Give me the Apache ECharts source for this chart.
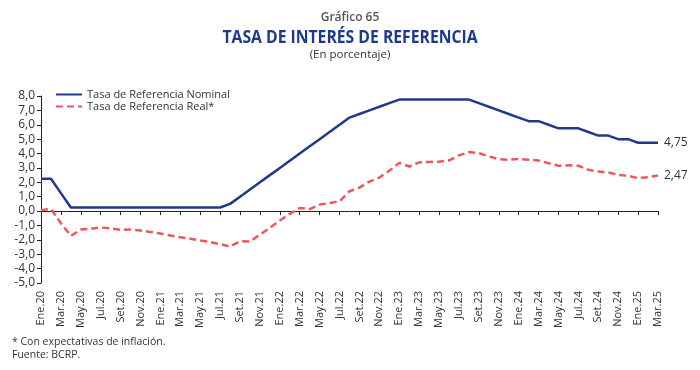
<!DOCTYPE html>
<html>
<head>
<meta charset="utf-8">
<script src="https://cdn.jsdelivr.net/npm/echarts@6/dist/echarts.min.js"></script>
<style>
html,body{margin:0;padding:0;background:#fff;}
#chart{width:700px;height:370px;}
</style>
</head>
<body>
<div id="chart"></div>
<script>
const categories = [
 'Ene.20','Feb.20','Mar.20','Abr.20','May.20','Jun.20','Jul.20','Ago.20','Set.20','Oct.20','Nov.20','Dic.20',
 'Ene.21','Feb.21','Mar.21','Abr.21','May.21','Jun.21','Jul.21','Ago.21','Set.21','Oct.21','Nov.21','Dic.21',
 'Ene.22','Feb.22','Mar.22','Abr.22','May.22','Jun.22','Jul.22','Ago.22','Set.22','Oct.22','Nov.22','Dic.22',
 'Ene.23','Feb.23','Mar.23','Abr.23','May.23','Jun.23','Jul.23','Ago.23','Set.23','Oct.23','Nov.23','Dic.23',
 'Ene.24','Feb.24','Mar.24','Abr.24','May.24','Jun.24','Jul.24','Ago.24','Set.24','Oct.24','Nov.24','Dic.24',
 'Ene.25','Feb.25','Mar.25'
];
const nominal = [
 2.25,2.25,1.25,0.25,0.25,0.25,0.25,0.25,0.25,0.25,0.25,0.25,
 0.25,0.25,0.25,0.25,0.25,0.25,0.25,0.50,1.00,1.50,2.00,2.50,
 3.00,3.50,4.00,4.50,5.00,5.50,6.00,6.50,6.75,7.00,7.25,7.50,
 7.75,7.75,7.75,7.75,7.75,7.75,7.75,7.75,7.50,7.25,7.00,6.75,
 6.50,6.25,6.25,6.00,5.75,5.75,5.75,5.50,5.25,5.25,5.00,5.00,
 4.75,4.75,4.75
];
const real = [
 0.05,0.15,-0.85,-1.73,-1.28,-1.24,-1.14,-1.21,-1.30,-1.28,-1.35,-1.45,
 -1.56,-1.70,-1.82,-1.92,-2.05,-2.15,-2.30,-2.47,-2.10,-2.12,-1.63,-1.17,
 -0.65,-0.19,0.21,0.14,0.45,0.56,0.68,1.38,1.63,2.05,2.33,2.80,
 3.35,3.10,3.38,3.42,3.43,3.52,3.87,4.10,4.03,3.80,3.61,3.57,
 3.62,3.57,3.52,3.33,3.15,3.18,3.15,2.87,2.75,2.68,2.52,2.45,
 2.29,2.36,2.47
];
const seriesNames = ['Tasa de Referencia Nominal','Tasa de Referencia Real*'];
const yMin = -5, yMax = 8, yStep = 1;

const font = "'Open Sans', 'Noto Sans', sans-serif";
const comma = (v, d) => v.toFixed(d).replace('.', ',');

const chart = echarts.init(document.getElementById('chart'), null, {renderer: 'canvas'});
chart.setOption({
  animation: false,
  backgroundColor: '#fff',
  textStyle: {fontFamily: font},
  grid: {left: 41, right: 42, top: 96, bottom: 87},
  graphic: [
    {type: 'text', left: 'center', top: 12, style: {text: 'Gráfico 65', fontFamily: font, fontWeight: 600, fontSize: 12, fill: '#555'}},
    {type: 'text', x: 350, y: 28, scaleX: 0.85, style: {text: 'TASA DE INTERÉS DE REFERENCIA', textAlign: 'center', fontFamily: font, fontWeight: 'bold', fontSize: 18.5, fill: '#1B3A8C'}},
    {type: 'text', left: 'center', top: 49, style: {text: '(En porcentaje)', fontFamily: font, fontSize: 11.5, fill: '#333'}},
    {type: 'text', left: 12, top: 337, style: {text: '* Con expectativas de inflación.', fontFamily: font, fontSize: 10.5, fill: '#333'}},
    {type: 'text', left: 12, top: 350, style: {text: 'Fuente: BCRP.', fontFamily: font, fontSize: 10.5, fill: '#333'}}
  ],
  legend: {
    orient: 'vertical', left: 55, top: 89, itemGap: 1, itemWidth: 26, itemHeight: 11, padding: 0,
    data: seriesNames,
    itemStyle: {opacity: 0},
    textStyle: {fontFamily: font, fontSize: 11, color: '#333'}
  },
  xAxis: [
    {
      type: 'category', data: categories, boundaryGap: false, position: 'bottom',
      axisLine: {show: false, onZero: false}, axisTick: {show: false},
      axisLabel: {rotate: 90, interval: 1, fontSize: 11, color: '#333', margin: 8, fontFamily: font}
    },
    {
      type: 'category', data: categories, boundaryGap: false, position: 'top',
      axisLine: {show: true, onZero: true, lineStyle: {color: '#222', width: 1}},
      axisTick: {show: true, inside: true, interval: 1, length: 4, lineStyle: {color: '#222'}},
      axisLabel: {show: false}
    }
  ],
  yAxis: {
    type: 'value', min: yMin, max: yMax, interval: yStep,
    axisLine: {show: true, lineStyle: {color: '#222', width: 1}},
    axisTick: {show: true, length: 4, lineStyle: {color: '#222'}},
    splitLine: {show: false},
    axisLabel: {fontSize: 12, color: '#333', margin: 6, fontFamily: font, formatter: v => comma(v, 1)}
  },
  series: [
    {
      name: seriesNames[0], type: 'line', data: nominal, xAxisIndex: 0, symbol: 'none',
      lineStyle: {color: '#1F3A8C', width: 2.5}, itemStyle: {color: '#1F3A8C'},
      endLabel: {show: true, distance: 6, fontSize: 12, color: '#333', fontFamily: font, formatter: p => comma(p.value, 2)}
    },
    {
      name: seriesNames[1], type: 'line', data: real, xAxisIndex: 0, symbol: 'none',
      lineStyle: {color: '#F0575D', width: 2.5, type: [7, 4]}, itemStyle: {color: '#F0575D'},
      endLabel: {show: true, distance: 6, fontSize: 12, color: '#333', fontFamily: font, formatter: p => comma(p.value, 2)}
    }
  ]
});
</script>
</body>
</html>
